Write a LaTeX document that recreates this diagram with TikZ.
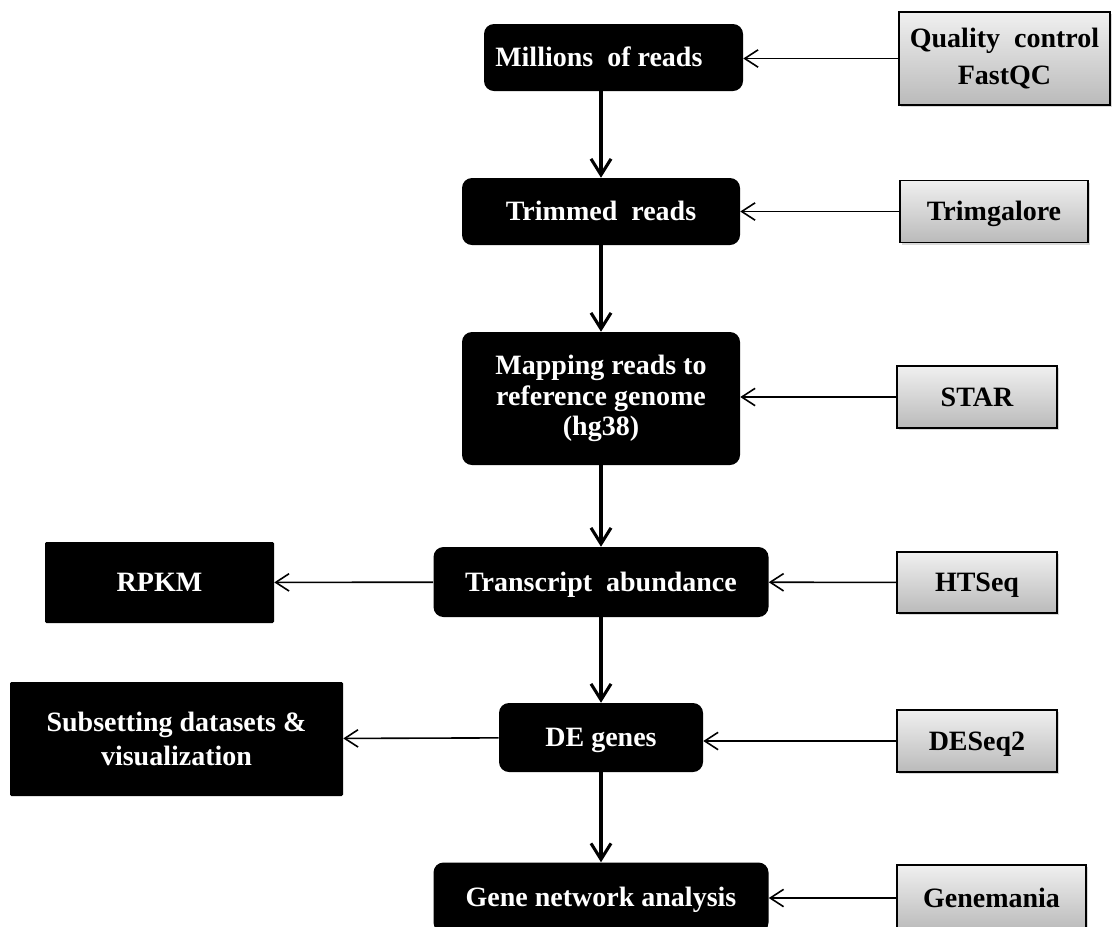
\documentclass[tikz,border=0pt]{standalone}
\usepackage{fontspec}
\setmainfont{Liberation Serif}
\usetikzlibrary{arrows.meta,shadows}
\tikzset{%
  >={Straight Barb[length=10pt,width=13pt]}, % default arrow style
  box wh/.style 2 args={minimum width=#1*0.75pt, minimum height=#2*0.75pt},
  one line/.style={text height=13.9pt, text depth=0pt}, % caps centred
  stage/.style={fill=black, text=white, rounded corners=7.5pt, align=center,
    inner sep=0pt, font=\bfseries\fontsize{21}{23}\selectfont},
  result/.style={stage, rounded corners=1pt},
  tool/.style={draw=black, line width=1.3pt, top color=black!6,
    bottom color=black!27, text=black, align=center, inner sep=0pt,
    font=\bfseries\fontsize{21}{28}\selectfont,
    drop shadow={shadow xshift=1.5pt, shadow yshift=-1.5pt, opacity=.3}},
  flow/.style={->, line width=2.3pt, >={Straight Barb[length=12pt,width=15pt]}},
  feed/.style={->, line width=1.2pt}
}

\begin{document}
\begin{tikzpicture}[x=0.75pt,y=-0.75pt]
  \useasboundingbox (0,0) rectangle (1112,926);
  \clip (0,0) rectangle (1112,926);
  % pipeline column
  \node[stage, one line, box wh={259}{67}] (reads) at (613.5,57.5) {Millions\ \ of reads\hspace*{22pt}};
  \node[stage, one line, box wh={278}{67}] (trim) at (601,211.5) {Trimmed\ \ reads};
  \node[stage, box wh={278}{133}] (map) at (601,398.5) {Mapping reads to\\reference genome\\(hg38)};
  \node[stage, one line, box wh={335}{70}] (abund) at (601,582) {Transcript\ \ abundance};
  \node[stage, one line, box wh={204}{69}] (deg) at (601,737.5) {DE genes};
  \node[stage, one line, box wh={335}{70}] (net) at (601,897.5) {Gene network analysis};
  % tools
  \node[tool, box wh={211}{93}] (qc) at (1004.5,58.5) {Quality\ \ control\\FastQC};
  \node[tool, one line, box wh={188}{62}] (galore) at (994,211.5) {Trimgalore};
  \node[tool, one line, box wh={160}{62}] (star) at (977,397) {STAR};
  \node[tool, one line, box wh={160}{61}] (htseq) at (977,582.5) {HTSeq};
  \node[tool, one line, box wh={160}{62}] (deseq) at (977,741) {DESeq2};
  \node[tool, one line, box wh={189}{66}] (gmania) at (991.5,898) {Genemania};
  % outputs
  \node[result, one line, box wh={229}{81}] (rpkm) at (159.5,582.5) {RPKM};
  \node[result, box wh={333}{114}, font=\bfseries\fontsize{21}{26}\selectfont]
    (subset) at (176.5,739) {Subsetting datasets \&\\visualization};
  % main flow
  \draw[flow] (reads.south -| trim.north) -- (trim.north);
  \draw[flow] (trim) -- (map);
  \draw[flow] (map) -- (abund);
  \draw[flow] (abund) -- (deg);
  \draw[flow] (deg) -- (net);
  % tool inputs
  \draw[feed] (qc.west) -- (qc.west -| reads.east);
  \draw[feed] (galore) -- (trim);
  \draw[feed] (star.west) -- (star.west -| map.east);
  \draw[feed] (htseq) -- (abund);
  \draw[feed] (deseq.west) -- (deseq.west -| deg.east);
  \draw[feed] (gmania.west) -- (gmania.west -| net.east);
  % outputs
  \draw[feed] (abund) -- (rpkm);
  \draw[feed] (deg) -- (subset);
\end{tikzpicture}
\end{document}
